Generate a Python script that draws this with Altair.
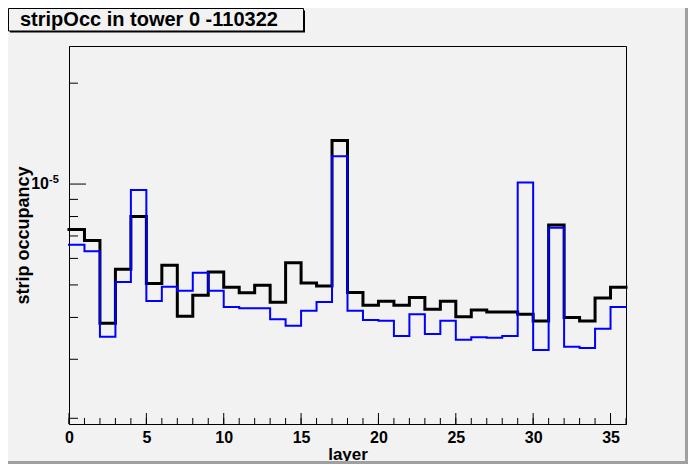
import altair as alt
import pandas as pd

# ---- data ----
layers = list(range(37))  # bin edges 0..36
black = [7.32e-6, 6.79e-6, 3.84e-6, 5.57e-6, 8.0e-6, 5.05e-6, 5.72e-6, 4.03e-6, 4.66e-6, 5.46e-6,
         4.92e-6, 4.74e-6, 4.99e-6, 4.44e-6, 5.82e-6, 5.07e-6, 4.96e-6, 1.35e-5, 4.75e-6, 4.35e-6,
         4.47e-6, 4.35e-6, 4.59e-6, 4.23e-6, 4.47e-6, 4.02e-6, 4.21e-6, 4.15e-6, 4.15e-6, 4.09e-6,
         3.90e-6, 7.55e-6, 4.00e-6, 3.90e-6, 4.57e-6, 4.92e-6]
blue = [6.59e-6, 6.30e-6, 3.50e-6, 5.10e-6, 9.6e-6, 4.48e-6, 4.94e-6, 4.80e-6, 5.44e-6, 4.80e-6,
        4.30e-6, 4.26e-6, 4.26e-6, 3.95e-6, 3.78e-6, 4.19e-6, 4.45e-6, 1.21e-5, 4.19e-6, 3.93e-6,
        3.91e-6, 3.52e-6, 4.09e-6, 3.57e-6, 3.91e-6, 3.43e-6, 3.49e-6, 3.48e-6, 3.52e-6, 1.01e-5,
        3.20e-6, 7.41e-6, 3.27e-6, 3.24e-6, 3.70e-6, 4.30e-6]
x_major_ticks = [0, 5, 10, 15, 20, 25, 30, 35]
x_minor_ticks = list(range(0, 37))
y_major_ticks = [1e-5]
y_minor_ticks = [2e-6, 3e-6, 4e-6, 5e-6, 6e-6, 7e-6, 8e-6, 9e-6, 2e-5]
title_text = "stripOcc in tower 0 -110322"
x_title = "layer"
y_title = "strip occupancy"

W, H = 557, 378
FONT = "Liberation Sans"

xscale = alt.Scale(domain=[0, 36], nice=False, zero=False)
yscale = alt.Scale(type="log", domain=[1.923e-6, 2.582e-5], nice=False)

xaxis = alt.Axis(
    values=x_major_ticks, ticks=False, grid=False, domain=True, domainColor="black",
    domainWidth=1, labelFont=FONT, labelFontWeight="bold", labelFontSize=16,
    labelColor="black", labelPadding=5, labelFlush=False,
    title=x_title, titleFont=FONT, titleFontWeight="bold", titleFontSize=17,
    titleColor="black", titleX=W / 2, titleY=35, titleBaseline="alphabetic")
yaxis = alt.Axis(
    labels=False, ticks=False, grid=False, domain=True, domainColor="black", domainWidth=1,
    title=y_title, titleFont=FONT, titleFontWeight="bold", titleFontSize=18,
    titleColor="black", titleAngle=270, titleX=-46, titleY=H / 2,
    titleBaseline="middle", titleAlign="center")

hist = pd.DataFrame({
    "x": layers * 2,
    "v": black + [black[-1]] + blue + [blue[-1]],
    "s": ["black"] * 37 + ["blue"] * 37,
})

base_line = alt.Chart(hist)

black_line = base_line.transform_filter("datum.s == 'black'").mark_line(
    interpolate="step-after", color="black", strokeWidth=3, strokeCap="square"
).encode(
    x=alt.X("x:Q", scale=xscale, axis=xaxis),
    y=alt.Y("v:Q", scale=yscale, axis=yaxis),
)

blue_line = base_line.transform_filter("datum.s == 'blue'").mark_line(
    interpolate="step-after", color="#0000ff", strokeWidth=2, strokeCap="square"
).encode(
    x=alt.X("x:Q", scale=xscale, axis=xaxis),
    y=alt.Y("v:Q", scale=yscale, axis=yaxis),
)

xmaj = alt.Chart(pd.DataFrame({"x": x_major_ticks})).mark_rule(color="black", strokeWidth=1).encode(
    x=alt.X("x:Q", scale=xscale, axis=xaxis), y=alt.value(H), y2=alt.value(H - 11))
xmin = alt.Chart(pd.DataFrame({"x": x_minor_ticks})).mark_rule(color="black", strokeWidth=1).encode(
    x=alt.X("x:Q", scale=xscale, axis=xaxis), y=alt.value(H), y2=alt.value(H - 6))
ymaj = alt.Chart(pd.DataFrame({"v": y_major_ticks})).mark_rule(color="black", strokeWidth=1).encode(
    y=alt.Y("v:Q", scale=yscale, axis=yaxis), x=alt.value(0), x2=alt.value(17))
ymin = alt.Chart(pd.DataFrame({"v": y_minor_ticks})).mark_rule(color="black", strokeWidth=1).encode(
    y=alt.Y("v:Q", scale=yscale, axis=yaxis), x=alt.value(0), x2=alt.value(9))

ylab_base = alt.Chart(pd.DataFrame({"v": y_major_ticks, "a": ["10"], "b": ["-5"]}))
ylab10 = ylab_base.mark_text(font=FONT, fontWeight="bold", fontSize=16, align="right",
                             baseline="middle", color="black").encode(
    y=alt.Y("v:Q", scale=yscale, axis=yaxis), x=alt.value(-20), text="a:N")
ylabexp = ylab_base.mark_text(font=FONT, fontWeight="bold", fontSize=11, align="left",
                              baseline="top", dy=-10, color="black").encode(
    y=alt.Y("v:Q", scale=yscale, axis=yaxis), x=alt.value(-20), text="b:N")

tdf = pd.DataFrame({"t": [title_text]})
shadow = alt.Chart(tdf).mark_rect(fill="black").encode(
    x=alt.value(-59), x2=alt.value(236), y=alt.value(-35.5), y2=alt.value(-13.5))
box = alt.Chart(tdf).mark_rect(fill="#f2f2f2", stroke="black", strokeWidth=1).encode(
    x=alt.value(-60.5), x2=alt.value(234.5), y=alt.value(-37.5), y2=alt.value(-15))
ttext = alt.Chart(tdf).mark_text(font=FONT, fontWeight="bold", fontSize=20, align="left",
                                 baseline="alphabetic", color="black").encode(
    x=alt.value(-49), y=alt.value(-20), text="t:N")

edge = pd.DataFrame({"k": [1]})
right_edge = alt.Chart(edge).mark_rule(color="#a0a0a0", strokeWidth=3).encode(
    x=alt.value(617.5), y=alt.value(-38), y2=alt.value(418))
bottom_edge = alt.Chart(edge).mark_rule(color="#a0a0a0", strokeWidth=3).encode(
    y=alt.value(416.5), x=alt.value(-61), x2=alt.value(619))

chart = alt.layer(
    black_line, blue_line, xmin, xmaj, ymin, ymaj, ylab10, ylabexp,
    shadow, box, ttext, right_edge, bottom_edge
).properties(
    width=W, height=H,
    autosize=alt.AutoSizeParams(type="none"),
    padding={"left": 61, "top": 38, "right": 62, "bottom": 40},
    background="#f2f2f2",
).configure_view(stroke="black", strokeWidth=1)

chart.save("out.html", embed_options={"renderer": "svg", "actions": False})
